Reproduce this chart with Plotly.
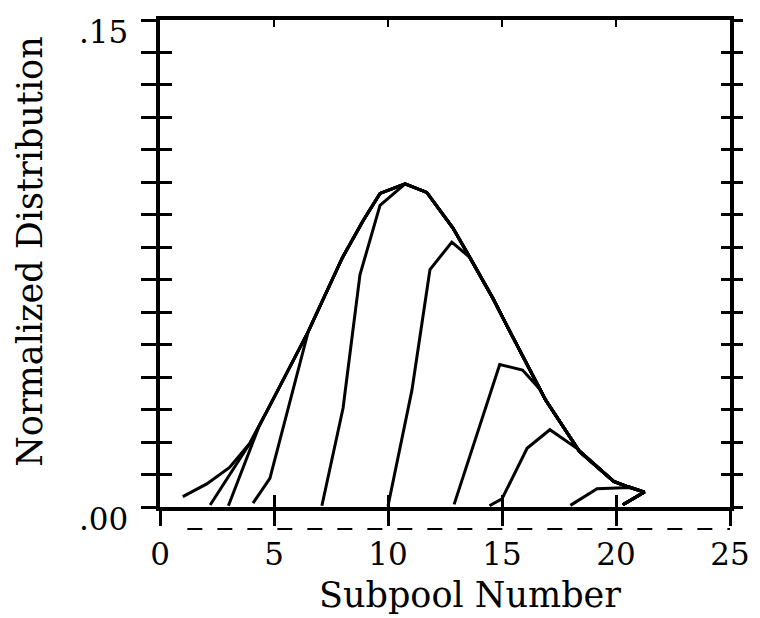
import plotly.graph_objects as go

# ---- data ----
x_tick_vals = [0, 5, 10, 15, 20, 25]
x_tick_text = ["0", "5", "10", "15", "20", "25"]
x_inner_ticks = [5, 10, 15, 20]
y_tick_vals = [0.00, 0.01, 0.02, 0.03, 0.04, 0.05, 0.06, 0.07,
               0.08, 0.09, 0.10, 0.11, 0.12, 0.13, 0.14, 0.15]
y_label_vals = [0.00, 0.15]
y_label_text = [".00", ".15"]

# full (untruncated) distribution envelope
env_x = [1.0, 2.05, 3.05, 3.95, 4.8, 6.5, 8.0, 8.9, 9.65, 10.75, 11.7, 12.85,
         13.6, 14.6, 15.35, 16.9, 18.4, 19.9, 20.5, 21.25, 20.3]
env_y = [0.0032, 0.0071, 0.0122, 0.0197, 0.031, 0.054, 0.0768, 0.0881, 0.0966,
         0.0995, 0.0969, 0.0859, 0.0768, 0.0643, 0.054, 0.0331, 0.0171, 0.0079,
         0.0063, 0.0046, 0.0007]

# truncated distributions: rising head, then join the envelope at index
c2_x, c2_y, c2_join = [2.2], [0.0006], 3
c3_x, c3_y, c3_join = [3.0, 4.33], [0.0004, 0.0246], 4
c4_x, c4_y, c4_join = [4.08, 4.82], [0.0012, 0.0088], 5
c5_x, c5_y, c5_join = [7.1, 8.03, 8.77, 9.65], [0.0004, 0.0305, 0.0715, 0.0929], 9
c6_x, c6_y, c6_join = [10.0, 11.05, 11.84, 12.8], [0.0003, 0.036, 0.0731, 0.0816], 12
c7_x, c7_y, c7_join = [12.9, 14.9, 15.9, 16.67], [0.0008, 0.0439, 0.0422, 0.0362], 15
c8_x, c8_y, c8_join = [14.45, 15.0, 16.1, 17.1, 18.3], [0.0004, 0.0025, 0.0181, 0.0238, 0.018], 17
c9_x, c9_y, c9_join = [18.0, 19.17, 20.6], [0.0005, 0.0056, 0.006], 19

curves = [
    (env_x, env_y),
    (c2_x + env_x[c2_join:], c2_y + env_y[c2_join:]),
    (c3_x + env_x[c3_join:], c3_y + env_y[c3_join:]),
    (c4_x + env_x[c4_join:], c4_y + env_y[c4_join:]),
    (c5_x + env_x[c5_join:], c5_y + env_y[c5_join:]),
    (c6_x + env_x[c6_join:], c6_y + env_y[c6_join:]),
    (c7_x + env_x[c7_join:], c7_y + env_y[c7_join:]),
    (c8_x + env_x[c8_join:], c8_y + env_y[c8_join:]),
    (c9_x + env_x[c9_join:], c9_y + env_y[c9_join:]),
]

FONT = "DejaVu Serif"
fig = go.Figure()
for cx, cy in curves:
    fig.add_trace(go.Scatter(x=cx, y=cy, mode="lines",
                             line=dict(color="black", width=3),
                             showlegend=False, hoverinfo="skip", cliponaxis=False))

# empty traces so that the overlay axes are drawn
for xa, ya in [("x2", "y"), ("x3", "y"), ("x", "y2"), ("x", "y3"), ("x", "y4")]:
    fig.add_trace(go.Scatter(x=[None], y=[None], xaxis=xa, yaxis=ya,
                             showlegend=False, hoverinfo="skip"))

common = dict(showgrid=False, zeroline=False, automargin=False)
# page body adds an 8px offset, so the figure is 8px smaller on each side
fig.update_layout(
    width=752, height=610,
    margin=dict(l=152, r=30, t=12, b=111, autoexpand=False),
    paper_bgcolor="white", plot_bgcolor="white",
    font=dict(family=FONT, color="black"),
    xaxis=dict(range=[0, 25], showline=True, linewidth=4, linecolor="black",
               ticks="outside", ticklen=15, tickwidth=3, tickcolor="black",
               tickvals=x_tick_vals, ticktext=x_tick_text,
               tickfont=dict(size=31, family=FONT), ticklabelstandoff=2, **common),
    xaxis2=dict(range=[0, 25], overlaying="x", anchor="y", side="bottom",
                showline=False, ticks="inside", ticklen=12, tickwidth=3,
                tickcolor="black", tickvals=x_inner_ticks, showticklabels=False, **common),
    xaxis3=dict(range=[0, 25], overlaying="x", anchor="y", side="top",
                showline=True, linewidth=4, linecolor="black",
                ticks="inside", ticklen=7, tickwidth=2, tickcolor="black",
                tickvals=x_inner_ticks, showticklabels=False, **common),
    yaxis=dict(range=[0, 0.15], showline=True, linewidth=4, linecolor="black",
               ticks="outside", ticklen=15, tickwidth=3, tickcolor="black",
               tickvals=y_tick_vals, showticklabels=False, **common),
    yaxis2=dict(range=[0, 0.15], overlaying="y", anchor="x", side="left",
                showline=False, ticks="inside", ticklen=12, tickwidth=3,
                tickcolor="black", tickvals=y_tick_vals, showticklabels=False, **common),
    yaxis3=dict(range=[0, 0.15], overlaying="y", anchor="x", side="right",
                showline=True, linewidth=4, linecolor="black",
                ticks="outside", ticklen=9, tickwidth=3, tickcolor="black",
                tickvals=y_tick_vals, showticklabels=False, **common),
    yaxis4=dict(range=[0, 0.15], overlaying="y", anchor="x", side="right",
                showline=False, ticks="inside", ticklen=9, tickwidth=3,
                tickcolor="black", tickvals=y_tick_vals, showticklabels=False, **common),
)

# y tick labels (sit slightly below their ticks in the original)
for yv, yt in zip(y_label_vals, y_label_text):
    fig.add_annotation(text=yt, xref="paper", yref="y", x=-0.052, y=yv,
                       xanchor="right", yanchor="middle", yshift=-12,
                       showarrow=False, font=dict(size=31, family=FONT, color="black"))

fig.add_annotation(text="Normalized Distribution", xref="paper", yref="paper",
                   x=-0.228, y=0.524, xanchor="center", yanchor="middle",
                   textangle=-90, showarrow=False,
                   font=dict(size=35, family=FONT, color="black"))
fig.add_annotation(text="Subpool Number", xref="paper", yref="paper",
                   x=0.544, y=-0.181, xanchor="center", yanchor="middle",
                   showarrow=False,
                   font=dict(size=35, family=FONT, color="black"))

# dashed rule drawn under the x axis in the original figure
fig.add_shape(type="line", xref="x", yref="paper", x0=1.2, x1=25, y0=-0.045, y1=-0.045,
              line=dict(color="black", width=2, dash="longdash"))

fig.write_html("out.html")
